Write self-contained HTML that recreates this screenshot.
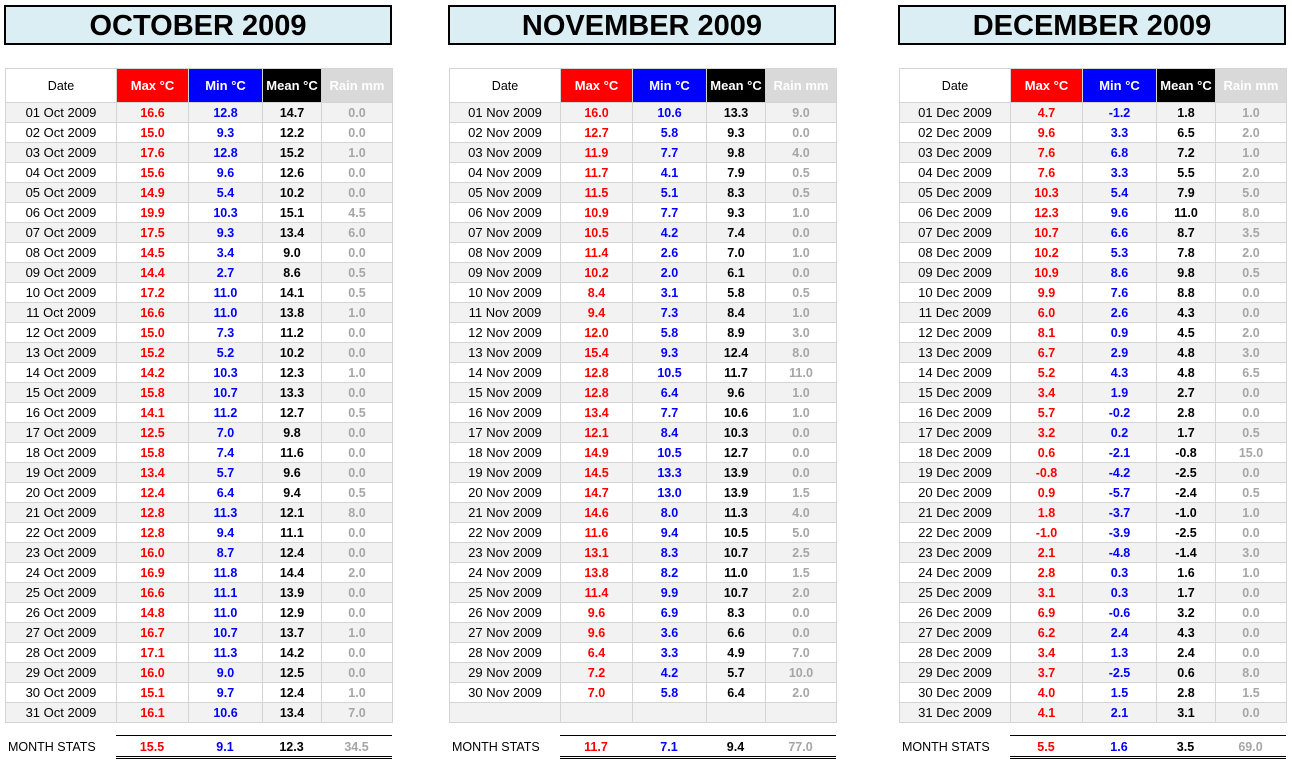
<!DOCTYPE html>
<html><head><meta charset="utf-8">
<style>
html,body{margin:0;padding:0;background:#fff;}
body{width:1292px;height:763px;position:relative;overflow:hidden;font-family:"Liberation Sans",Arial,sans-serif;}
.panel{position:absolute;top:0;width:400px;height:763px;}
.title{position:absolute;left:4px;top:5px;width:388px;height:40px;box-sizing:border-box;border:2px solid #000;background:#daeef3;font-weight:bold;font-size:29px;text-align:center;line-height:38px;color:#000;overflow:hidden;white-space:nowrap;}
table.d{position:absolute;left:5px;top:68px;border-collapse:separate;border-spacing:0;border-left:1px solid #d4d4d4;border-top:1px solid #d4d4d4;table-layout:fixed;width:388px;}
table.d td{box-sizing:border-box;border-right:1px solid #d4d4d4;border-bottom:1px solid #d4d4d4;padding:0;text-align:center;height:20px;font-size:12.5px;font-weight:bold;line-height:18px;white-space:nowrap;overflow:hidden;}
table.d tbody tr:nth-child(odd) td{background:#f2f2f2;}
table.d td:nth-child(1){font-weight:normal;font-size:13px;color:#000;}
table.d td:nth-child(2){color:#ff0000;}
table.d td:nth-child(3){color:#0000ff;}
table.d td:nth-child(4){color:#000;}
table.d td:nth-child(5){color:#a6a6a6;}
table.d thead td{height:34px;font-size:13px;color:#fff;line-height:32px;}
table.d thead td.h1{font-weight:normal;color:#000;background:#fff;font-size:12.5px;}
table.d thead td.h2{background:#ff0000;color:#fff;}
table.d thead td.h3{background:#0000ff;color:#fff;}
table.d thead td.h4{background:#000;color:#fff;}
table.d thead td.h5{background:#d9d9d9;color:#fff;}
.ms{position:absolute;left:8px;top:738px;font-size:12.5px;line-height:18px;color:#000;white-space:nowrap;}
.st{position:absolute;left:116px;top:735px;width:276px;height:24px;box-sizing:border-box;border-top:1px solid #000;border-bottom:3px double #000;font-weight:bold;font-size:12.5px;line-height:19px;}
.st span{position:absolute;top:2px;text-align:center;}
.s1{left:0;width:72px;color:#ff0000;}
.s2{left:72px;width:74px;color:#0000ff;}
.s3{left:146px;width:59px;color:#000;}
.s4{left:205px;width:71px;color:#a6a6a6;}
</style></head><body>

<!-- OCTOBER -->
<div class="panel" style="left:0px;">
<div class="title">OCTOBER 2009</div>
<table class="d">
<colgroup><col style="width:111px"><col style="width:72px"><col style="width:74px"><col style="width:59px"><col style="width:71px"></colgroup>
<thead><tr><td class="h1">Date</td><td class="h2">Max °C</td><td class="h3">Min °C</td><td class="h4">Mean °C</td><td class="h5">Rain mm</td></tr></thead>
<tbody>
<tr><td>01 Oct 2009</td><td>16.6</td><td>12.8</td><td>14.7</td><td>0.0</td></tr>
<tr><td>02 Oct 2009</td><td>15.0</td><td>9.3</td><td>12.2</td><td>0.0</td></tr>
<tr><td>03 Oct 2009</td><td>17.6</td><td>12.8</td><td>15.2</td><td>1.0</td></tr>
<tr><td>04 Oct 2009</td><td>15.6</td><td>9.6</td><td>12.6</td><td>0.0</td></tr>
<tr><td>05 Oct 2009</td><td>14.9</td><td>5.4</td><td>10.2</td><td>0.0</td></tr>
<tr><td>06 Oct 2009</td><td>19.9</td><td>10.3</td><td>15.1</td><td>4.5</td></tr>
<tr><td>07 Oct 2009</td><td>17.5</td><td>9.3</td><td>13.4</td><td>6.0</td></tr>
<tr><td>08 Oct 2009</td><td>14.5</td><td>3.4</td><td>9.0</td><td>0.0</td></tr>
<tr><td>09 Oct 2009</td><td>14.4</td><td>2.7</td><td>8.6</td><td>0.5</td></tr>
<tr><td>10 Oct 2009</td><td>17.2</td><td>11.0</td><td>14.1</td><td>0.5</td></tr>
<tr><td>11 Oct 2009</td><td>16.6</td><td>11.0</td><td>13.8</td><td>1.0</td></tr>
<tr><td>12 Oct 2009</td><td>15.0</td><td>7.3</td><td>11.2</td><td>0.0</td></tr>
<tr><td>13 Oct 2009</td><td>15.2</td><td>5.2</td><td>10.2</td><td>0.0</td></tr>
<tr><td>14 Oct 2009</td><td>14.2</td><td>10.3</td><td>12.3</td><td>1.0</td></tr>
<tr><td>15 Oct 2009</td><td>15.8</td><td>10.7</td><td>13.3</td><td>0.0</td></tr>
<tr><td>16 Oct 2009</td><td>14.1</td><td>11.2</td><td>12.7</td><td>0.5</td></tr>
<tr><td>17 Oct 2009</td><td>12.5</td><td>7.0</td><td>9.8</td><td>0.0</td></tr>
<tr><td>18 Oct 2009</td><td>15.8</td><td>7.4</td><td>11.6</td><td>0.0</td></tr>
<tr><td>19 Oct 2009</td><td>13.4</td><td>5.7</td><td>9.6</td><td>0.0</td></tr>
<tr><td>20 Oct 2009</td><td>12.4</td><td>6.4</td><td>9.4</td><td>0.5</td></tr>
<tr><td>21 Oct 2009</td><td>12.8</td><td>11.3</td><td>12.1</td><td>8.0</td></tr>
<tr><td>22 Oct 2009</td><td>12.8</td><td>9.4</td><td>11.1</td><td>0.0</td></tr>
<tr><td>23 Oct 2009</td><td>16.0</td><td>8.7</td><td>12.4</td><td>0.0</td></tr>
<tr><td>24 Oct 2009</td><td>16.9</td><td>11.8</td><td>14.4</td><td>2.0</td></tr>
<tr><td>25 Oct 2009</td><td>16.6</td><td>11.1</td><td>13.9</td><td>0.0</td></tr>
<tr><td>26 Oct 2009</td><td>14.8</td><td>11.0</td><td>12.9</td><td>0.0</td></tr>
<tr><td>27 Oct 2009</td><td>16.7</td><td>10.7</td><td>13.7</td><td>1.0</td></tr>
<tr><td>28 Oct 2009</td><td>17.1</td><td>11.3</td><td>14.2</td><td>0.0</td></tr>
<tr><td>29 Oct 2009</td><td>16.0</td><td>9.0</td><td>12.5</td><td>0.0</td></tr>
<tr><td>30 Oct 2009</td><td>15.1</td><td>9.7</td><td>12.4</td><td>1.0</td></tr>
<tr><td>31 Oct 2009</td><td>16.1</td><td>10.6</td><td>13.4</td><td>7.0</td></tr>
</tbody></table>
<div class="ms">MONTH STATS</div>
<div class="st"><span class="s1">15.5</span><span class="s2">9.1</span><span class="s3">12.3</span><span class="s4">34.5</span></div>
</div>

<!-- NOVEMBER -->
<div class="panel" style="left:444px;">
<div class="title">NOVEMBER 2009</div>
<table class="d">
<colgroup><col style="width:111px"><col style="width:72px"><col style="width:74px"><col style="width:59px"><col style="width:71px"></colgroup>
<thead><tr><td class="h1">Date</td><td class="h2">Max °C</td><td class="h3">Min °C</td><td class="h4">Mean °C</td><td class="h5">Rain mm</td></tr></thead>
<tbody>
<tr><td>01 Nov 2009</td><td>16.0</td><td>10.6</td><td>13.3</td><td>9.0</td></tr>
<tr><td>02 Nov 2009</td><td>12.7</td><td>5.8</td><td>9.3</td><td>0.0</td></tr>
<tr><td>03 Nov 2009</td><td>11.9</td><td>7.7</td><td>9.8</td><td>4.0</td></tr>
<tr><td>04 Nov 2009</td><td>11.7</td><td>4.1</td><td>7.9</td><td>0.5</td></tr>
<tr><td>05 Nov 2009</td><td>11.5</td><td>5.1</td><td>8.3</td><td>0.5</td></tr>
<tr><td>06 Nov 2009</td><td>10.9</td><td>7.7</td><td>9.3</td><td>1.0</td></tr>
<tr><td>07 Nov 2009</td><td>10.5</td><td>4.2</td><td>7.4</td><td>0.0</td></tr>
<tr><td>08 Nov 2009</td><td>11.4</td><td>2.6</td><td>7.0</td><td>1.0</td></tr>
<tr><td>09 Nov 2009</td><td>10.2</td><td>2.0</td><td>6.1</td><td>0.0</td></tr>
<tr><td>10 Nov 2009</td><td>8.4</td><td>3.1</td><td>5.8</td><td>0.5</td></tr>
<tr><td>11 Nov 2009</td><td>9.4</td><td>7.3</td><td>8.4</td><td>1.0</td></tr>
<tr><td>12 Nov 2009</td><td>12.0</td><td>5.8</td><td>8.9</td><td>3.0</td></tr>
<tr><td>13 Nov 2009</td><td>15.4</td><td>9.3</td><td>12.4</td><td>8.0</td></tr>
<tr><td>14 Nov 2009</td><td>12.8</td><td>10.5</td><td>11.7</td><td>11.0</td></tr>
<tr><td>15 Nov 2009</td><td>12.8</td><td>6.4</td><td>9.6</td><td>1.0</td></tr>
<tr><td>16 Nov 2009</td><td>13.4</td><td>7.7</td><td>10.6</td><td>1.0</td></tr>
<tr><td>17 Nov 2009</td><td>12.1</td><td>8.4</td><td>10.3</td><td>0.0</td></tr>
<tr><td>18 Nov 2009</td><td>14.9</td><td>10.5</td><td>12.7</td><td>0.0</td></tr>
<tr><td>19 Nov 2009</td><td>14.5</td><td>13.3</td><td>13.9</td><td>0.0</td></tr>
<tr><td>20 Nov 2009</td><td>14.7</td><td>13.0</td><td>13.9</td><td>1.5</td></tr>
<tr><td>21 Nov 2009</td><td>14.6</td><td>8.0</td><td>11.3</td><td>4.0</td></tr>
<tr><td>22 Nov 2009</td><td>11.6</td><td>9.4</td><td>10.5</td><td>5.0</td></tr>
<tr><td>23 Nov 2009</td><td>13.1</td><td>8.3</td><td>10.7</td><td>2.5</td></tr>
<tr><td>24 Nov 2009</td><td>13.8</td><td>8.2</td><td>11.0</td><td>1.5</td></tr>
<tr><td>25 Nov 2009</td><td>11.4</td><td>9.9</td><td>10.7</td><td>2.0</td></tr>
<tr><td>26 Nov 2009</td><td>9.6</td><td>6.9</td><td>8.3</td><td>0.0</td></tr>
<tr><td>27 Nov 2009</td><td>9.6</td><td>3.6</td><td>6.6</td><td>0.0</td></tr>
<tr><td>28 Nov 2009</td><td>6.4</td><td>3.3</td><td>4.9</td><td>7.0</td></tr>
<tr><td>29 Nov 2009</td><td>7.2</td><td>4.2</td><td>5.7</td><td>10.0</td></tr>
<tr><td>30 Nov 2009</td><td>7.0</td><td>5.8</td><td>6.4</td><td>2.0</td></tr>
<tr><td></td><td></td><td></td><td></td><td></td></tr>
</tbody></table>
<div class="ms">MONTH STATS</div>
<div class="st"><span class="s1">11.7</span><span class="s2">7.1</span><span class="s3">9.4</span><span class="s4">77.0</span></div>
</div>

<!-- DECEMBER -->
<div class="panel" style="left:894px;">
<div class="title">DECEMBER 2009</div>
<table class="d">
<colgroup><col style="width:111px"><col style="width:72px"><col style="width:74px"><col style="width:59px"><col style="width:71px"></colgroup>
<thead><tr><td class="h1">Date</td><td class="h2">Max °C</td><td class="h3">Min °C</td><td class="h4">Mean °C</td><td class="h5">Rain mm</td></tr></thead>
<tbody>
<tr><td>01 Dec 2009</td><td>4.7</td><td>-1.2</td><td>1.8</td><td>1.0</td></tr>
<tr><td>02 Dec 2009</td><td>9.6</td><td>3.3</td><td>6.5</td><td>2.0</td></tr>
<tr><td>03 Dec 2009</td><td>7.6</td><td>6.8</td><td>7.2</td><td>1.0</td></tr>
<tr><td>04 Dec 2009</td><td>7.6</td><td>3.3</td><td>5.5</td><td>2.0</td></tr>
<tr><td>05 Dec 2009</td><td>10.3</td><td>5.4</td><td>7.9</td><td>5.0</td></tr>
<tr><td>06 Dec 2009</td><td>12.3</td><td>9.6</td><td>11.0</td><td>8.0</td></tr>
<tr><td>07 Dec 2009</td><td>10.7</td><td>6.6</td><td>8.7</td><td>3.5</td></tr>
<tr><td>08 Dec 2009</td><td>10.2</td><td>5.3</td><td>7.8</td><td>2.0</td></tr>
<tr><td>09 Dec 2009</td><td>10.9</td><td>8.6</td><td>9.8</td><td>0.5</td></tr>
<tr><td>10 Dec 2009</td><td>9.9</td><td>7.6</td><td>8.8</td><td>0.0</td></tr>
<tr><td>11 Dec 2009</td><td>6.0</td><td>2.6</td><td>4.3</td><td>0.0</td></tr>
<tr><td>12 Dec 2009</td><td>8.1</td><td>0.9</td><td>4.5</td><td>2.0</td></tr>
<tr><td>13 Dec 2009</td><td>6.7</td><td>2.9</td><td>4.8</td><td>3.0</td></tr>
<tr><td>14 Dec 2009</td><td>5.2</td><td>4.3</td><td>4.8</td><td>6.5</td></tr>
<tr><td>15 Dec 2009</td><td>3.4</td><td>1.9</td><td>2.7</td><td>0.0</td></tr>
<tr><td>16 Dec 2009</td><td>5.7</td><td>-0.2</td><td>2.8</td><td>0.0</td></tr>
<tr><td>17 Dec 2009</td><td>3.2</td><td>0.2</td><td>1.7</td><td>0.5</td></tr>
<tr><td>18 Dec 2009</td><td>0.6</td><td>-2.1</td><td>-0.8</td><td>15.0</td></tr>
<tr><td>19 Dec 2009</td><td>-0.8</td><td>-4.2</td><td>-2.5</td><td>0.0</td></tr>
<tr><td>20 Dec 2009</td><td>0.9</td><td>-5.7</td><td>-2.4</td><td>0.5</td></tr>
<tr><td>21 Dec 2009</td><td>1.8</td><td>-3.7</td><td>-1.0</td><td>1.0</td></tr>
<tr><td>22 Dec 2009</td><td>-1.0</td><td>-3.9</td><td>-2.5</td><td>0.0</td></tr>
<tr><td>23 Dec 2009</td><td>2.1</td><td>-4.8</td><td>-1.4</td><td>3.0</td></tr>
<tr><td>24 Dec 2009</td><td>2.8</td><td>0.3</td><td>1.6</td><td>1.0</td></tr>
<tr><td>25 Dec 2009</td><td>3.1</td><td>0.3</td><td>1.7</td><td>0.0</td></tr>
<tr><td>26 Dec 2009</td><td>6.9</td><td>-0.6</td><td>3.2</td><td>0.0</td></tr>
<tr><td>27 Dec 2009</td><td>6.2</td><td>2.4</td><td>4.3</td><td>0.0</td></tr>
<tr><td>28 Dec 2009</td><td>3.4</td><td>1.3</td><td>2.4</td><td>0.0</td></tr>
<tr><td>29 Dec 2009</td><td>3.7</td><td>-2.5</td><td>0.6</td><td>8.0</td></tr>
<tr><td>30 Dec 2009</td><td>4.0</td><td>1.5</td><td>2.8</td><td>1.5</td></tr>
<tr><td>31 Dec 2009</td><td>4.1</td><td>2.1</td><td>3.1</td><td>0.0</td></tr>
</tbody></table>
<div class="ms">MONTH STATS</div>
<div class="st"><span class="s1">5.5</span><span class="s2">1.6</span><span class="s3">3.5</span><span class="s4">69.0</span></div>
</div>

</body></html>
